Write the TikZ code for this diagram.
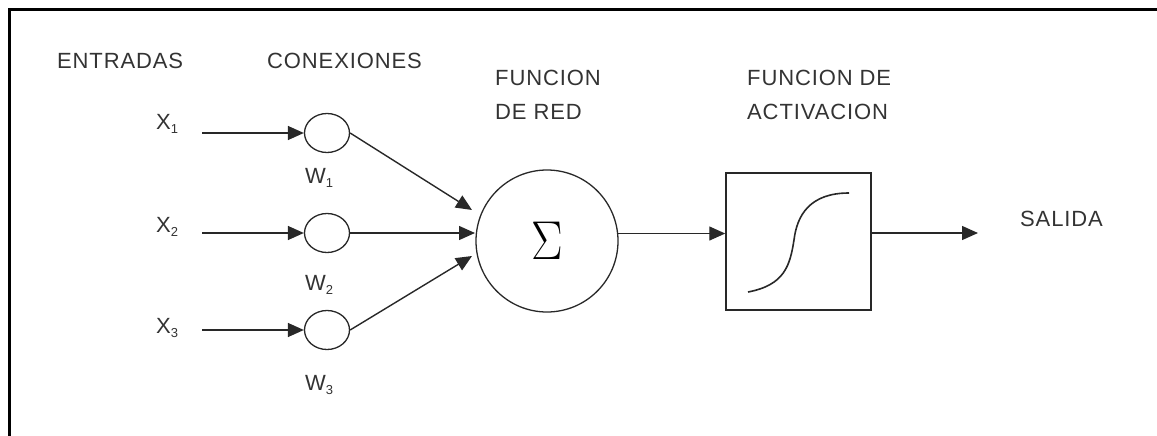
\documentclass[tikz,border=0pt]{standalone}
\usepackage{fontspec}
\setmainfont{Liberation Sans}[LetterSpace=4]
\usetikzlibrary{arrows.meta,shapes.geometric}
\definecolor{txt}{HTML}{333333}
\definecolor{ln}{HTML}{282828}
\newcommand\sublab[2]{#1\raisebox{-4pt}{\fontsize{13}{13}\selectfont #2}}
\begin{document}
\begin{tikzpicture}[x=1pt,y=-1pt,
  lbl/.style={text=txt, font=\fontsize{22}{22}\selectfont, inner sep=0pt, anchor=base west},
  vlab/.style={text=txt, font=\fontsize{22}{22}\selectfont, inner sep=0pt, anchor=base west},
  wire/.style={draw=ln, line width=1.4pt},
  arr/.style={wire, -{Triangle[length=16pt,width=14pt]}},
  wnode/.style={ellipse, draw=ln, line width=1.3pt, minimum width=45pt, minimum height=39pt, inner sep=0pt},
  sumnode/.style={circle, draw=ln, line width=1.3pt, minimum size=142pt, inner sep=0pt},
  actbox/.style={draw=ln, line width=1.5pt, minimum width=145pt, minimum height=137pt, inner sep=0pt}]
\useasboundingbox (0,0) rectangle (1157,436);
\draw[line width=3pt] (9,437) -- (9,10) -- (1158,10);

% headings
\node[lbl] (entradas) at (57,69) {ENTRADAS};
\node[lbl] (conex) at (267,69) {CONEXIONES};
\node[lbl] (fred1) at (495,85) {FUNCION};
\node[lbl] (fred2) at (495,119) {DE RED};
\node[lbl] (fact1) at (747,85) {FUNCION DE};
\node[lbl] (fact2) at (747,119) {ACTIVACION};
\node[lbl] (salida) at (1020,226) {SALIDA};

% inputs
\node[vlab] (x1) at (156,129) {\sublab{X}{1}};
\node[vlab] (x2) at (156,232) {\sublab{X}{2}};
\node[vlab] (x3) at (156,333) {\sublab{X}{3}};

% weights
\node[wnode] (c1) at (327,133) {};
\node[wnode] (c2) at (327,233) {};
\node[wnode] (c3) at (327,330) {};
\node[vlab] (w1) at (305,183) {\sublab{W}{1}};
\node[vlab] (w2) at (305,290) {\sublab{W}{2}};
\node[vlab] (w3) at (305,390) {\sublab{W}{3}};

% sum and activation
\node[sumnode] (sum) at (547,241) {\fontsize{24}{24}\selectfont\scalebox{1.9}[2.2]{$\Sigma$}};
\node[actbox] (act) at (798.5,241.5) {};
\draw[draw=ln, line width=1.6pt] (748,292) .. controls (785,285) and (790,265) .. (794,240) .. controls (797,215) and (810,193) .. (849,193);

% connectors
\coordinate (i1) at (202,133);
\coordinate (i2) at (202,233);
\coordinate (i3) at (202,330);
\draw[arr] (i1) -- (c1.west);
\draw[arr] (i2) -- (c2.west);
\draw[arr] (i3) -- (c3.west);
\coordinate (t1) at (472,210);
\coordinate (t2) at (475,233);
\coordinate (t3) at (472,256);
\draw[arr] (c1.east) -- (t1);
\draw[arr] (c2.east) -- (t2);
\draw[arr] (c3.east) -- (t3);
\draw[arr] (sum.6.5) -- (sum.6.5 -| act.west);
\coordinate (out) at (978,233);
\draw[arr] (out -| act.east) -- (out);
\end{tikzpicture}
\end{document}
